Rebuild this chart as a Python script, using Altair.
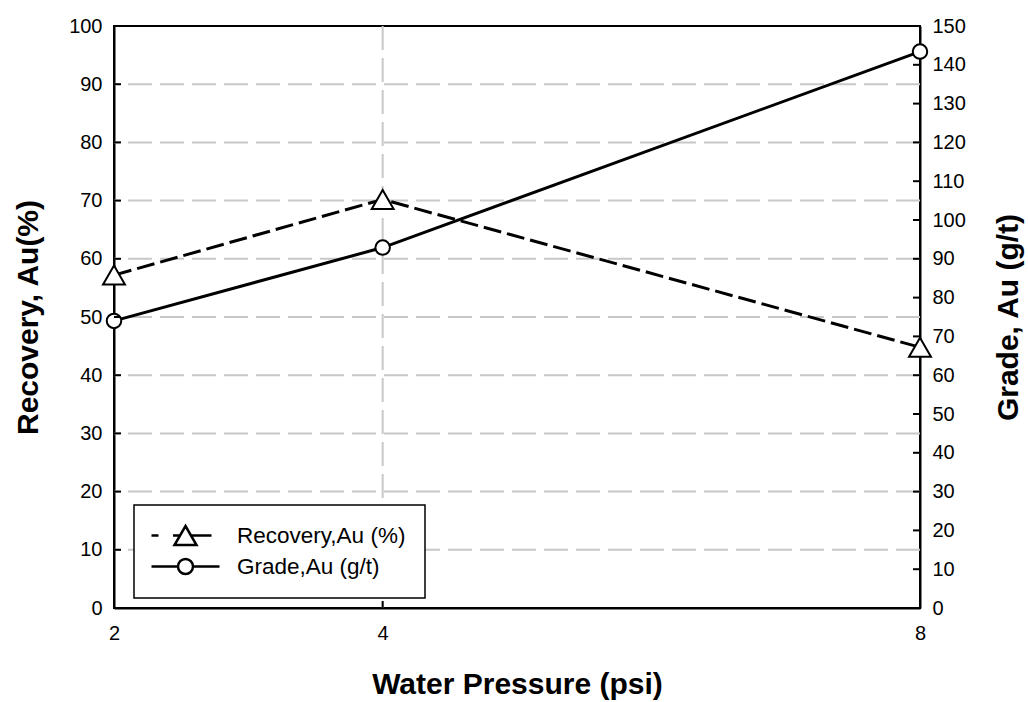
import altair as alt
import pandas as pd

# Measured values
pressure = [2, 4, 8]                 # water pressure, psi
recovery = [57.2, 70.2, 44.8]        # Au recovery, %
grade = [74.0, 92.9, 143.4]          # Au grade, g/t
series = ["Recovery,Au (%)", "Grade,Au (g/t)"]

# Axis ticks and grid positions
x_ticks = [2, 4, 8]
left_ticks = list(range(0, 101, 10))
right_ticks = list(range(0, 151, 10))
left_inner_ticks = list(range(10, 100, 10))
right_inner_ticks = list(range(10, 150, 10))
grid_rows = list(range(10, 100, 10))
grid_cols = [4]

W, H = 806, 582
FONT = "Liberation Sans"

df = pd.DataFrame({"p": pressure, "rec": recovery, "grade": grade})

x_scale = alt.Scale(domain=[2, 8], nice=False, zero=False)
left_scale = alt.Scale(domain=[0, 100], nice=False, zero=False)
right_scale = alt.Scale(domain=[0, 150], nice=False, zero=False)

x_axis = alt.Axis(
    values=x_ticks, format="d", ticks=False, grid=False, labelFlush=False,
    domainColor="black", domainWidth=2,
    labelFont=FONT, labelFontSize=20, labelColor="black", labelPadding=15,
    title="Water Pressure (psi)", titleFont=FONT, titleFontSize=30,
    titleFontWeight="bold", titleColor="black",
    titleX=W / 2, titleY=85, titleBaseline="alphabetic",
)
x_enc = alt.X("p:Q", scale=x_scale, axis=x_axis)

left_axis = alt.Axis(
    orient="left", values=left_ticks, ticks=False, grid=False,
    domainColor="black", domainWidth=2,
    labelFont=FONT, labelFontSize=20, labelColor="black", labelPadding=12,
    title="Recovery, Au(%)", titleFont=FONT, titleFontSize=30,
    titleFontWeight="bold", titleColor="black", titleAngle=270,
    titleX=-86, titleY=H / 2, titleAlign="center", titleBaseline="middle",
)
right_axis = alt.Axis(
    orient="right", values=right_ticks, ticks=False, grid=False,
    domainColor="black", domainWidth=2,
    labelFont=FONT, labelFontSize=20, labelColor="black", labelPadding=12,
    title="Grade, Au (g/t)", titleFont=FONT, titleFontSize=30,
    titleFontWeight="bold", titleColor="black", titleAngle=270,
    titleX=88, titleY=H / 2, titleAlign="center", titleBaseline="middle",
)

GRID_COLOR = "#c8c8c8"

# Dashed grid
grid_h = alt.Chart(pd.DataFrame({"v": grid_rows})).mark_rule(
    color=GRID_COLOR, strokeWidth=2, strokeDash=[24, 8]
).encode(y=alt.Y("v:Q", scale=left_scale, axis=None))

grid_v = alt.Chart(pd.DataFrame({"p": grid_cols})).mark_rule(
    color=GRID_COLOR, strokeWidth=2, strokeDash=[24, 8]
).encode(x=x_enc)

# Recovery series (left axis)
rec_line = alt.Chart(df).mark_line(
    color="black", strokeWidth=3, strokeDash=[18, 6]
).encode(x=x_enc, y=alt.Y("rec:Q", scale=left_scale, axis=left_axis))

rec_pts = alt.Chart(df).mark_point(
    shape="triangle-up", size=480, filled=True, fill="white",
    stroke="black", strokeWidth=2, opacity=1
).encode(x=x_enc, y=alt.Y("rec:Q", scale=left_scale, axis=None))

# Grade series (right axis)
grade_line = alt.Chart(df).mark_line(
    color="black", strokeWidth=3
).encode(x=x_enc, y=alt.Y("grade:Q", scale=right_scale, axis=right_axis))

grade_pts = alt.Chart(df).mark_point(
    shape="circle", size=210, filled=True, fill="white",
    stroke="black", strokeWidth=2, opacity=1
).encode(x=x_enc, y=alt.Y("grade:Q", scale=right_scale, axis=None))

# Inward tick marks
ticks_left = alt.Chart(pd.DataFrame({"v": left_inner_ticks})).mark_rule(
    color="black", strokeWidth=2
).encode(
    y=alt.Y("v:Q", scale=left_scale, axis=None),
    x=alt.value(0), x2=alt.value(7),
)
ticks_right = alt.Chart(pd.DataFrame({"v": right_inner_ticks})).mark_rule(
    color="black", strokeWidth=2
).encode(
    y=alt.Y("v:Q", scale=right_scale, axis=None),
    x=alt.value(W - 7), x2=alt.value(W),
)
ticks_bottom = alt.Chart(pd.DataFrame({"p": [4]})).mark_rule(
    color="black", strokeWidth=2
).encode(x=x_enc, y=alt.value(H - 7), y2=alt.value(H))

# Legend symbols: line + marker glyphs
path_rec = ("M-3.4,0L-2.7,0M-1.25,0L-0.55,0M0.55,0L2.6,0"
            "M0,-0.95L1.1,0.95L-1.1,0.95Z")
path_grade = ("M-3.4,0L-0.75,0M0.75,0L3.4,0"
              "M-0.75,0C-0.75,-0.414,-0.414,-0.75,0,-0.75"
              "C0.414,-0.75,0.75,-0.414,0.75,0"
              "C0.75,0.414,0.414,0.75,0,0.75"
              "C-0.414,0.75,-0.75,0.414,-0.75,0Z")

# The legend comes from the shape scale's fixed domain; this layer draws no marks.
legend_layer = alt.Chart(pd.DataFrame({"series": series})).transform_filter(
    "false"
).mark_point(
    filled=False, opacity=1, size=400
).encode(
    shape=alt.Shape(
        "series:N",
        scale=alt.Scale(domain=series, range=[path_rec, path_grade]),
        legend=alt.Legend(
            title=None, orient="none", legendX=20, legendY=479,
            padding=19, strokeColor="black", fillColor="white",
            cornerRadius=0, symbolOffset=21, labelOffset=40,
            labelFont=FONT, labelFontSize=22.5, labelColor="black",
            labelLimit=0, symbolOpacity=1, symbolSize=400,
            symbolStrokeWidth=2.5, symbolFillColor="white",
            symbolStrokeColor="black", rowPadding=4,
        ),
    )
)

chart = alt.layer(
    grid_h, grid_v, rec_line, grade_line, rec_pts, grade_pts,
    ticks_left, ticks_right, ticks_bottom, legend_layer,
).resolve_scale(
    y="independent"
).properties(
    width=W, height=H,
    padding={"left": 114, "top": 26, "right": 108, "bottom": 94},
    autosize=alt.AutoSizeParams(type="none"),
    background="white",
).configure_view(
    stroke="black", strokeWidth=2
).configure_axis(
    labelFont=FONT, labelFontSize=20, labelColor="black"
).configure_legend(
    strokeWidth=1.5
)

chart.save("out.html", embed_options={"renderer": "svg", "actions": False})
